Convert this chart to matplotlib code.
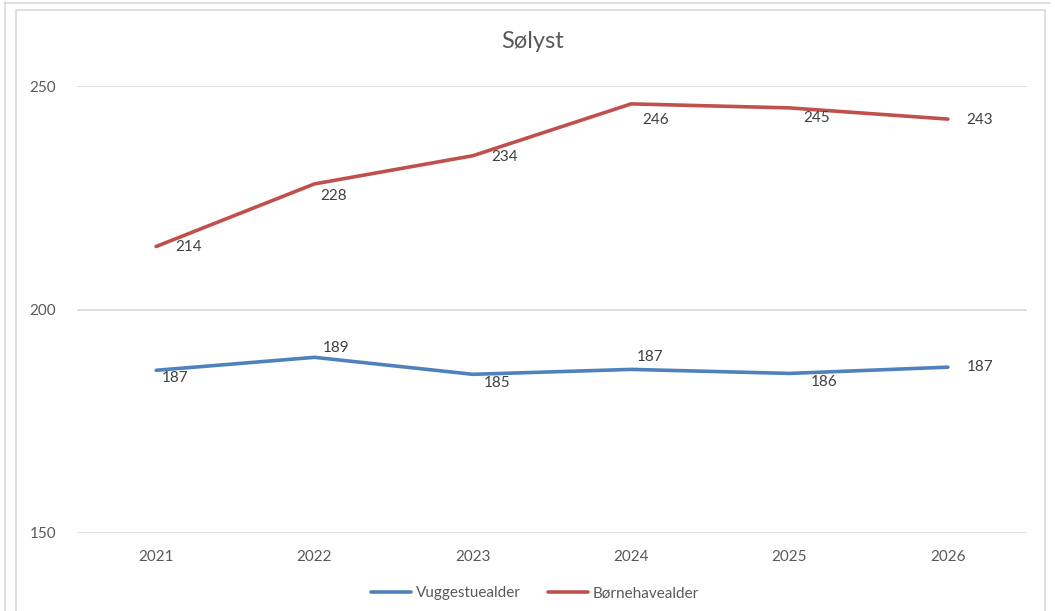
import matplotlib
matplotlib.use("Agg")
import matplotlib.pyplot as plt
from matplotlib.patches import Rectangle
from matplotlib.lines import Line2D

years = ["2021", "2022", "2023", "2024", "2025", "2026"]
vuggestue = [186.4, 189.3, 185.5, 186.6, 185.7, 187.1]
boernehave = [214.1, 228.1, 234.4, 246.0, 245.1, 242.6]
vuggestue_labels = ["187", "189", "185", "187", "186", "187"]
boernehave_labels = ["214", "228", "234", "246", "245", "243"]
series_names = ["Vuggestuealder", "Børnehavealder"]
y_ticks = [150, 200, 250]

# label offsets in pixels (style only)
off_v = [(19, -8), (22, 9), (24, -9), (19, 12), (35, -9), (32, 0)]
off_b = [(32, -1), (19, -12), (32, -1), (24, -16), (27, -10), (32, -1)]

W, H = 1055, 611
plt.rcParams['font.family'] = ['Lato', 'DejaVu Sans']
fig = plt.figure(figsize=(W / 100, H / 100), dpi=100)

# screenshot frame decorations
fig.patches.append(Rectangle((16 / W, -0.01), (1045 - 16) / W, (H - 10) / H + 0.01,
                             transform=fig.transFigure, fill=False,
                             edgecolor="#d9d9d9", lw=1.2))
fig.add_artist(Line2D([5 / W, 5 / W], [0, 1 - 2 / H], transform=fig.transFigure,
                      color="#d9d9d9", lw=1.2))
fig.add_artist(Line2D([5 / W, 1050 / W], [1 - 3 / H, 1 - 3 / H], transform=fig.transFigure,
                      color="#d9d9d9", lw=1.2))

ax = fig.add_axes([77 / W, 1 - 533 / H, (1027 - 77) / W, (533 - 86) / H])
x = list(range(len(years)))
blue = "#4F81BD"
red = "#C0504D"
ax.plot(x, vuggestue, color=blue, lw=2.6, solid_capstyle="round", label=series_names[0])
ax.plot(x, boernehave, color=red, lw=2.6, solid_capstyle="round", label=series_names[1])

for xi, yi, lab, off in zip(x, vuggestue, vuggestue_labels, off_v):
    ax.annotate(lab, (xi, yi), xytext=off, textcoords="offset pixels",
                ha="center", va="center", fontsize=11, color="#404040")
for xi, yi, lab, off in zip(x, boernehave, boernehave_labels, off_b):
    ax.annotate(lab, (xi, yi), xytext=off, textcoords="offset pixels",
                ha="center", va="center", fontsize=11, color="#404040")

ax.set_xlim(-0.5, len(years) - 0.5)
ax.set_ylim(150, 250)
ax.set_yticks(y_ticks)
ax.set_xticks(x)
ax.set_xticklabels(years)
ax.grid(axis="y", color="#d9d9d9", lw=1.2)
ax.set_axisbelow(True)
for s in ax.spines.values():
    s.set_visible(False)
ax.tick_params(axis="both", length=0, labelsize=11, colors="#595959")
ax.tick_params(axis="y", pad=15)
ax.tick_params(axis="x", pad=12)

fig.text(533 / W, 1 - 42 / H, "Sølyst", ha="center", va="center", fontsize=17, color="#595959")

leg = fig.legend(loc="center", bbox_to_anchor=(535 / W, 1 - 593 / H), ncol=2, frameon=False,
                 fontsize=11, handlelength=2.6, handletextpad=0.3, columnspacing=1.8,
                 labelcolor="#595959")

fig.savefig("out.png", dpi=100)
